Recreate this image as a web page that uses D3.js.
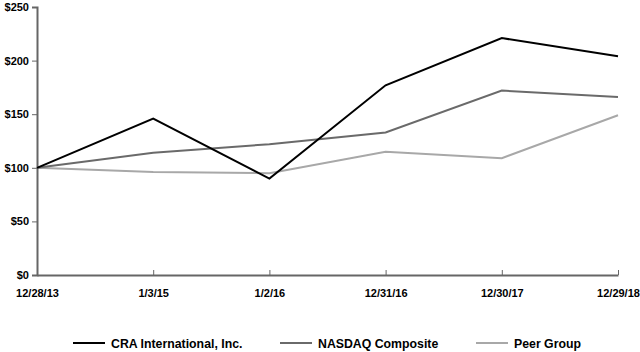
<!DOCTYPE html>
<html><head><meta charset="utf-8">
<script src="https://cdn.jsdelivr.net/npm/d3@7"></script>
<style>body{margin:0;background:#fff}svg{display:block}text{font-family:"Liberation Sans",Arial,sans-serif;font-weight:bold;fill:#000}</style>
</head><body><svg id="c" width="640" height="352"></svg>
<script>
const dates = ["12/28/13","1/3/15","1/2/16","12/31/16","12/30/17","12/29/18"];
const cra = [100,146,90,177,221,204];
const nasdaq = [100,114,122,133,172,166];
const peer = [100,96,95,115,109,149];
const yTicks = [0,50,100,150,200,250];
const seriesNames = ["CRA International, Inc.","NASDAQ Composite","Peer Group"];
const colors = ["#000000","#6a6a6a","#a8a8a8"];

const svg = d3.select("#c");
const x = d3.scalePoint().domain(dates).range([37,618]);
const y = d3.scaleLinear().domain([0,250]).range([275,7]);

const yAxis = svg.append("g").attr("transform","translate(37,0)")
  .call(d3.axisLeft(y).tickValues(yTicks).tickFormat(d=>"$"+d).tickSize(5).tickPadding(3));
yAxis.select(".domain").attr("stroke","#666").attr("stroke-width",2);
yAxis.selectAll(".tick line").attr("stroke","#666").attr("stroke-width",1);
yAxis.selectAll("text").style("font-size","11px").attr("fill","#000");

const xAxis = svg.append("g").attr("transform","translate(0,275)")
  .call(d3.axisBottom(x).tickSize(-5).tickPadding(14).tickSizeOuter(0));
xAxis.select(".domain").attr("stroke","#666").attr("stroke-width",2);
xAxis.selectAll(".tick line").attr("stroke","#666").attr("stroke-width",1);
xAxis.selectAll("text").style("font-size","11px").attr("fill","#000");

const line = d3.line().x((d,i)=>x(dates[i])).y(d=>y(d));
const all = [cra,nasdaq,peer];
[2,1,0].forEach(i=>{
  svg.append("path").datum(all[i]).attr("d",line).attr("fill","none")
    .attr("stroke",colors[i]).attr("stroke-width",2);
});

const legX = [73,280,476];
seriesNames.forEach((n,i)=>{
  const g = svg.append("g").attr("transform",`translate(${legX[i]},343)`);
  g.append("line").attr("x1",0).attr("x2",32).attr("y1",0).attr("y2",0).attr("stroke",colors[i]).attr("stroke-width",2);
  g.append("text").attr("x",38).attr("y",4.5).style("font-size","12.3px").text(n);
});
</script></body></html>
